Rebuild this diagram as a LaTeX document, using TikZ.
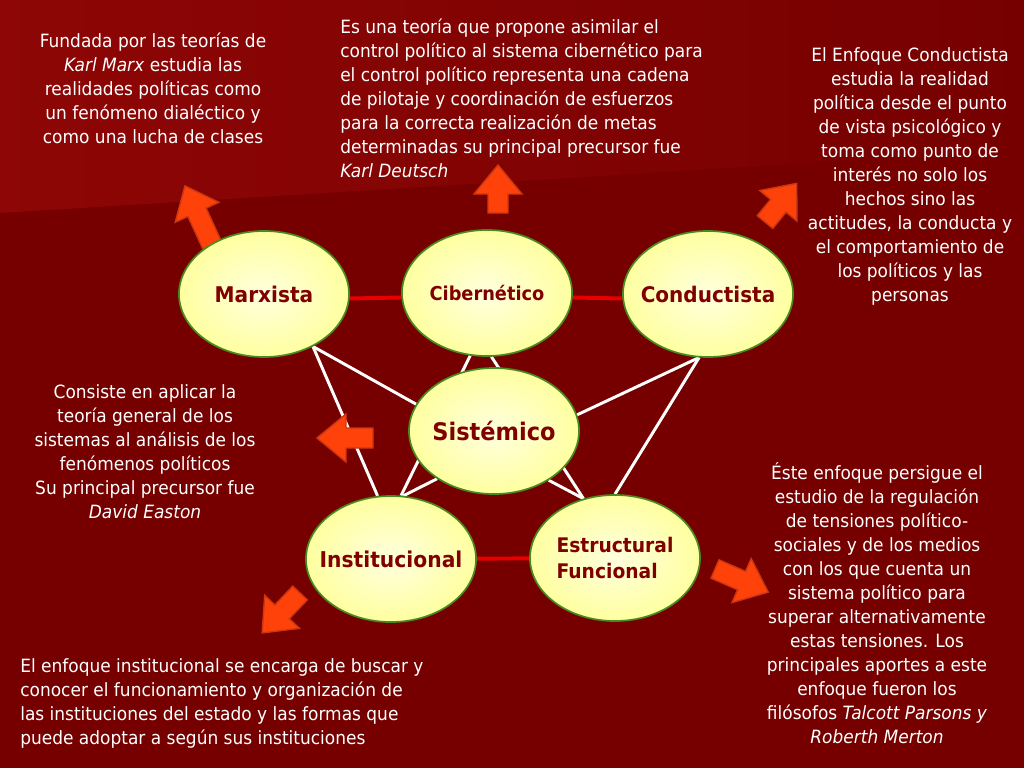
\documentclass[tikz,border=0pt]{standalone}
\usepackage{fontspec}
\setmainfont{DejaVu Sans}[FakeStretch=0.93]
\usetikzlibrary{shapes.geometric}

\definecolor{vinho}{RGB}{118,0,0}
\definecolor{vinhoclaro}{RGB}{142,6,6}
\definecolor{textovinho}{RGB}{128,0,0}
\definecolor{creme}{RGB}{255,255,222}
\definecolor{amarelo}{RGB}{255,255,160}
\definecolor{verdeborda}{RGB}{70,140,30}
\definecolor{laranja}{RGB}{255,66,10}
\definecolor{laranjaborda}{RGB}{205,55,15}
\definecolor{vermelho}{RGB}{232,0,0}

\pgfdeclarelayer{fundo}
\pgfdeclarelayer{linhas}
\pgfsetlayers{fundo,linhas,main}

\tikzset{
  enfoque/.style={ellipse, minimum width=4.25cm, minimum height=3.15cm, inner xsep=-9pt, inner ysep=0pt,
    draw=verdeborda, line width=1.2pt, inner color=creme, outer color=amarelo,
    text=textovinho, font=\fontsize{#1}{18.5}\selectfont\bfseries},
  texto/.style={text=white, inner sep=0pt, font=\fontsize{13}{17.07}\selectfont},
  ligacao/.style={white, line width=2.1pt},
  ligacaoverm/.style={vermelho, line width=2.8pt},
  pics/seta/.style={code={
    \draw[fill=laranja, draw=laranjaborda, line width=1pt]
      (0,-10) -- (#1-29,-10) -- (#1-29,-24) -- (#1,0) -- (#1-29,24) -- (#1-29,10) -- (0,10) -- cycle;
  }}
}

\begin{document}
\begin{tikzpicture}[x=0.025cm, y=-0.025cm]
                
                \useasboundingbox (0,0) rectangle (1024,768);
                
                % Fundo
                \begin{pgfonlayer}{fundo}
                  \fill[vinho] (0,0) rectangle (1024,768);
                  \shade[left color=vinhoclaro, right color=vinho] (0,0) -- (1024,0) -- (1024,150) -- (0,213) -- cycle;
                \end{pgfonlayer}
                
                % Enfoques
                \node[enfoque=15.4] (marx) at (264,294) {Marxista};
                \node[enfoque=13.6] (cib) at (487,293) {Cibernético};
                \node[enfoque=15.3] (cond) at (708,294) {Conductista};
                \node[enfoque=17.2] (sist) at (494,431) {Sistémico};
                \node[enfoque=15.5] (inst) at (391,559) {Institucional};
                \node[enfoque=14.3, align=left] (estr) at (615,558) {Estructural\\Funcional};
                
                % Ligacoes entre os enfoques
                \begin{pgfonlayer}{linhas}
                  \draw[ligacao] (marx.-47) -- (inst.102);
                  \draw[ligacao] (marx.-47) -- (sist.161);
                  \draw[ligacao] (cib.-105) -- (inst.81);
                  \draw[ligacao] (cib.-86) -- (estr.118);
                  \draw[ligacao] (cond.-98) -- (sist.11);
                  \draw[ligacao] (cond.-98) -- (estr.90);
                  \draw[ligacao] (sist.-140) -- (inst.79);
                  \draw[ligacao] (sist.-42) -- (estr.118);
                  \draw[ligacaoverm] (marx.-3) -- (cib.183);
                  \draw[ligacaoverm] (cib.-3) -- (cond.183);
                  \draw[ligacaoverm] (inst) -- (estr);
                  
                  % Setas para os textos
                  \pic[rotate=114.6] at (212,245) {seta=65};
                  \pic[rotate=90] at (498,213) {seta=48};
                  \pic[rotate=50.6] at (765,222) {seta=50};
                  \pic[rotate=180] at (373,438) {seta=56};
                  \pic[rotate=-133.5] at (300,593) {seta=55};
                  \pic[rotate=-23.5] at (715,569) {seta=58};
                \end{pgfonlayer}
                
                % Textos explicativos
                \node[texto, align=center] (txtmarx) at (153,88) {Fundada por las teorías de\\ \textit{Karl Marx} estudia las\\ realidades políticas como\\ un fenómeno dialéctico y\\ como una lucha de clases};
                \node[texto, align=left, anchor=west] (txtcib) at (340,98) {Es una teoría que propone asimilar el\\ control político al sistema cibernético para\\ el control político representa una cadena\\ de pilotaje y coordinación de esfuerzos\\ para la correcta realización de metas\\ determinadas su principal precursor fue\\ \textit{Karl Deutsch}};
                \node[texto, align=center] (txtcond) at (910,176) {El Enfoque Conductista\\ estudia la realidad\\ política desde el punto\\ de vista psicológico y\\ toma como punto de\\ interés no solo los\\ hechos sino las\\ actitudes, la conducta y\\ el comportamiento de\\ los políticos y las\\ personas};
                \node[texto, align=center] (txtsist) at (145,452) {Consiste en aplicar la\\ teoría general de los\\ sistemas al análisis de los\\ fenómenos políticos\\ Su principal precursor fue\\ \textit{David Easton}};
                \node[texto, align=left, anchor=west] (txtinst) at (20,703) {El enfoque institucional se encarga de buscar y\\ conocer el funcionamiento y organización de\\ las instituciones del estado y las formas que\\ puede adoptar a según sus instituciones};
                \node[texto, align=center] (txtestr) at (877,603) {Éste enfoque persigue el\\ estudio de la regulación\\ de tensiones político-\\ sociales y de los medios\\ con los que cuenta un\\ sistema político para\\ superar alternativamente\\ estas tensiones. Los\\ principales aportes a este\\ enfoque fueron los\\ filósofos \textit{Talcott Parsons y}\\ \textit{Roberth Merton}};

\end{tikzpicture}
\end{document}
